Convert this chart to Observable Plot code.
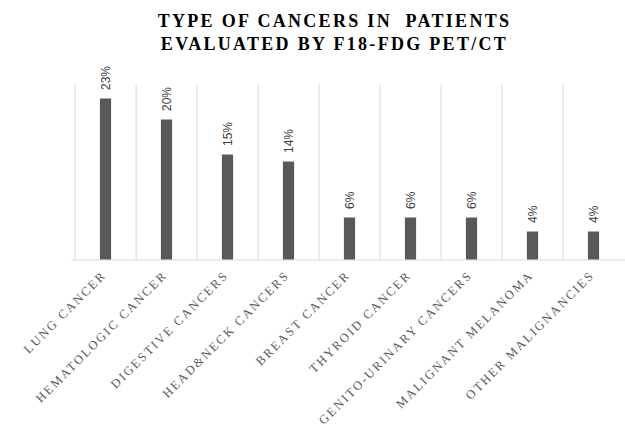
<!DOCTYPE html>
<html>
<head>
<meta charset="utf-8">
<script src="https://cdn.jsdelivr.net/npm/d3@7"></script>
<script src="https://cdn.jsdelivr.net/npm/@observablehq/plot@0.6"></script>
<style>
  html, body { margin: 0; padding: 0; background: #fff; overflow: hidden; width: 625px; height: 428px; }
  #title {
    position: relative; left: 22px; width: 625px; height: 56px; box-sizing: border-box;
    padding-top: 10px; text-align: center; white-space: pre;
    font-family: "Liberation Serif", "Times New Roman", serif; font-weight: bold;
    font-size: 18px; line-height: 22.6px; letter-spacing: 2.3px; color: #000;
  }
  #chart svg { overflow: hidden; display: block; }
</style>
</head>
<body>
<div id="title">TYPE OF CANCERS IN  PATIENTS
EVALUATED BY F18-FDG PET/CT</div>
<div id="chart"></div>
<script>
const categories = ["LUNG CANCER", "HEMATOLOGIC CANCER", "DIGESTIVE CANCERS", "HEAD&NECK CANCERS", "BREAST CANCER", "THYROID CANCER", "GENITO-URINARY CANCERS", "MALIGNANT MELANOMA", "OTHER MALIGNANCIES"];
const values = [23, 20, 15, 14, 6, 6, 6, 4, 4];
const valueLabels = ["23%", "20%", "15%", "14%", "6%", "6%", "6%", "4%", "4%"];

const data = categories.map((c, i) => ({category: c, value: values[i], label: valueLabels[i]}));

const W = 625, H = 372, ML = 71.7, MR = -2.9, MT = 28.5, MB = 168.5;
const step = (W - ML - MR) / categories.length;
const barW = 12;

const chart = Plot.plot({
  width: W, height: H,
  marginLeft: ML, marginRight: MR, marginTop: MT, marginBottom: MB,
  x: {type: "band", domain: categories, padding: 0, axis: null},
  y: {domain: [0, 25], axis: null},
  marks: [
    Plot.ruleX(categories, {x: d => d, dx: -step / 2, y1: 0, y2: 25, stroke: "#d9d9d9", strokeWidth: 1}),
    Plot.ruleY([0], {stroke: "#d9d9d9", strokeWidth: 1}),
    Plot.barY(data, {x: "category", y: "value", fill: "#595959", insetLeft: (step - barW) / 2, insetRight: (step - barW) / 2}),
    Plot.text(data, {x: "category", y: "value", text: "label", rotate: -90, textAnchor: "start", dy: -9,
      fontFamily: "Liberation Sans, Arial, sans-serif", fontSize: 12, fill: "#404040"}),
    Plot.text(categories, {x: d => d, frameAnchor: "bottom", dy: 16, dx: 1, rotate: -45, textAnchor: "end",
      fontFamily: "Liberation Serif, Times New Roman, serif", fontSize: 12.5, fill: "#595959"})
  ]
});
d3.select(chart).selectAll("text")
  .filter(function () { return categories.includes(this.textContent); })
  .style("letter-spacing", "2px");
document.getElementById("chart").appendChild(chart);
</script>
</body>
</html>
